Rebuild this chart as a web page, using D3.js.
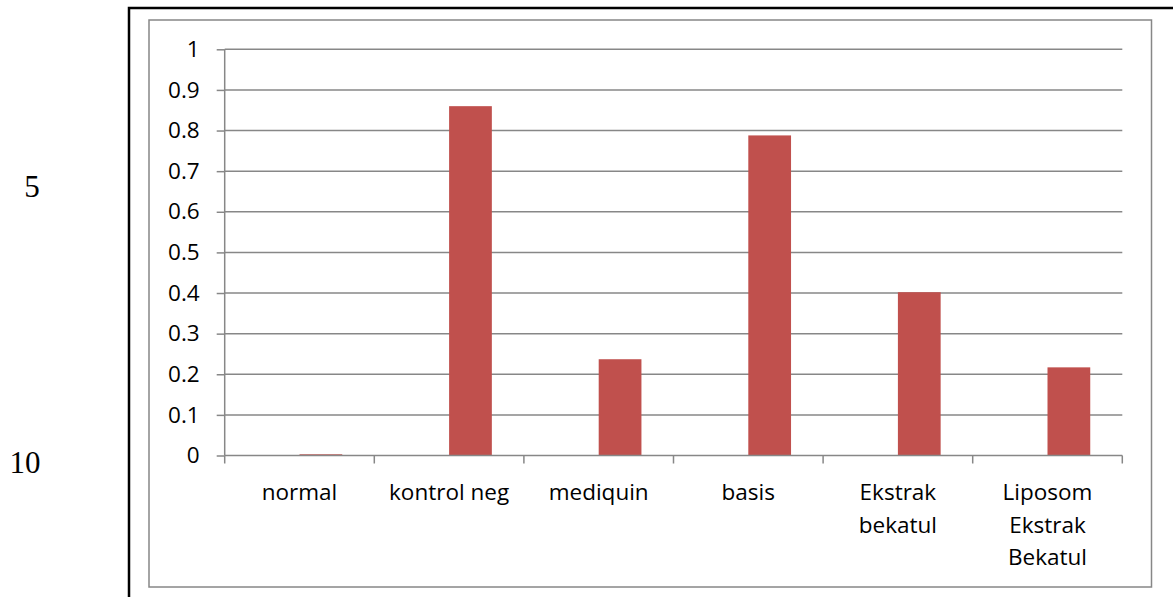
<!DOCTYPE html>
<html>
<head>
<meta charset="utf-8">
<script src="https://cdn.jsdelivr.net/npm/d3@7"></script>
<style>
  html, body { margin: 0; padding: 0; background: #fff; }
  svg { display: block; }
</style>
</head>
<body>
<svg id="chart" width="1173" height="597"></svg>
<script>
// Categories (label lines) and values
const categories = ["normal", "kontrol neg", "mediquin", "basis", "Ekstrak bekatul", "Liposom Ekstrak Bekatul"];
const categoryLines = [["normal"], ["kontrol neg"], ["mediquin"], ["basis"], ["Ekstrak", "bekatul"], ["Liposom", "Ekstrak", "Bekatul"]];
const seriesNames = ["Series1", "Series2"];
const series1 = [null, null, null, null, null, null];
const series2 = [0.003, 0.86, 0.237, 0.788, 0.402, 0.217];
const yTicks = [0, 0.1, 0.2, 0.3, 0.4, 0.5, 0.6, 0.7, 0.8, 0.9, 1];
const yTickLabels = ["0", "0.1", "0.2", "0.3", "0.4", "0.5", "0.6", "0.7", "0.8", "0.9", "1"];
const lineNumbers = ["5", "10"];

const svg = d3.select("#chart");
const font = "'Open Sans', Lato, sans-serif";
const fontSize = 22.5;
const grey = "#878787";

svg.append("rect").attr("width", 1173).attr("height", 597).attr("fill", "#fff");

// Page frame (black) running off the right and bottom edges
svg.append("path")
  .attr("d", "M129,600 V8 H1180")
  .attr("fill", "none").attr("stroke", "#000").attr("stroke-width", 2.5);

// Chart area border
svg.append("rect")
  .attr("x", 149).attr("y", 20).attr("width", 1002.5).attr("height", 567)
  .attr("fill", "#fff").attr("stroke", grey).attr("stroke-width", 1.5);

// Line numbers in the page margin
const lineNumX = [32, 25];
const lineNumY = [186, 462];
svg.selectAll("text.lnum").data(lineNumbers).join("text")
  .attr("class", "lnum")
  .attr("x", (d, i) => lineNumX[i])
  .attr("y", (d, i) => lineNumY[i])
  .attr("text-anchor", "middle").attr("dominant-baseline", "central")
  .attr("font-family", "'Liberation Serif', 'Times New Roman', serif")
  .attr("font-size", 31).attr("fill", "#000")
  .text(d => d);

const plot = { left: 224.7, right: 1122.3, top: 49.3, bottom: 455.5 };

const x0 = d3.scaleBand().domain(categories).range([plot.left, plot.right]).padding(0);
const x1 = d3.scaleBand().domain(seriesNames).range([0, x0.bandwidth()]).paddingInner(0).paddingOuter(0.75);
const y = d3.scaleLinear().domain([0, 1]).range([plot.bottom, plot.top]);

// Horizontal gridlines
svg.append("g").selectAll("line").data(yTicks.slice(1)).join("line")
  .attr("x1", plot.left).attr("x2", plot.right)
  .attr("y1", d => y(d)).attr("y2", d => y(d))
  .attr("stroke", grey).attr("stroke-width", 1.5);

// Y axis
const yAxis = svg.append("g")
  .attr("transform", `translate(${plot.left},0)`)
  .call(d3.axisLeft(y).tickValues(yTicks).tickFormat((d, i) => yTickLabels[i]).tickSize(8).tickPadding(17));
yAxis.select(".domain").attr("stroke", grey).attr("stroke-width", 1.5).attr("d", `M0,${plot.top}V${plot.bottom}`);
yAxis.selectAll(".tick line").attr("stroke", grey).attr("stroke-width", 1.5);
yAxis.selectAll(".tick text").attr("font-family", font).attr("font-size", fontSize).attr("fill", "#000");

// Bars
const seriesData = [series1, series2];
const barColors = ["#4F81BD", "#C0504D"];
seriesData.forEach((vals, s) => {
  svg.append("g").selectAll("rect")
    .data(vals.map((v, i) => ({ cat: categories[i], v })).filter(d => d.v != null))
    .join("rect")
    .attr("x", d => x0(d.cat) + x1(seriesNames[s]))
    .attr("width", x1.bandwidth())
    .attr("y", d => y(d.v))
    .attr("height", d => y(0) - y(d.v))
    .attr("fill", barColors[s]);
});

// X axis
const xAxis = svg.append("g")
  .attr("transform", `translate(0,${plot.bottom})`)
  .call(d3.axisBottom(x0).tickSize(0).tickFormat(""));
xAxis.select(".domain").attr("stroke", grey).attr("stroke-width", 1.5).attr("d", `M${plot.left},0H${plot.right}`);
const bounds = categories.map(c => x0(c)).concat([plot.right]);
xAxis.selectAll("line.cat").data(bounds).join("line")
  .attr("class", "cat")
  .attr("x1", d => d).attr("x2", d => d).attr("y1", 0).attr("y2", 8)
  .attr("stroke", grey).attr("stroke-width", 1.5);

// Category labels (wrapped)
const labels = svg.append("g").selectAll("text").data(categories).join("text")
  .attr("x", d => x0(d) + x0.bandwidth() / 2)
  .attr("y", 491)
  .attr("text-anchor", "middle").attr("dominant-baseline", "central")
  .attr("font-family", font).attr("font-size", fontSize).attr("fill", "#000");
labels.each(function(d, i) {
  d3.select(this).selectAll("tspan").data(categoryLines[i]).join("tspan")
    .attr("x", x0(d) + x0.bandwidth() / 2)
    .attr("dy", (t, j) => j === 0 ? 0 : 32.5)
    .text(t => t);
});
</script>
</body>
</html>
